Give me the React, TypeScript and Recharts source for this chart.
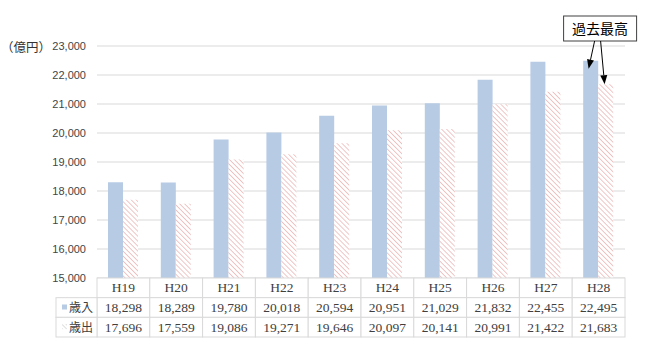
import { BarChart, Bar, XAxis, YAxis, CartesianGrid, ReferenceDot } from 'recharts'

const years = ['H19', 'H20', 'H21', 'H22', 'H23', 'H24', 'H25', 'H26', 'H27', 'H28']
const revenue = [18298, 18289, 19780, 20018, 20594, 20951, 21029, 21832, 22455, 22495]
const expenditure = [17696, 17559, 19086, 19271, 19646, 20097, 20141, 20991, 21422, 21683]
const yTicks = [15000, 16000, 17000, 18000, 19000, 20000, 21000, 22000, 23000]
const seriesNames = ['歳入', '歳出']

const data = years.map((y, i) => ({ year: y, rev: revenue[i], exp: expenditure[i] }))

const W = 649
const H = 350
const M = { top: 46, right: 24, left: 0, bottom: 13 }
const Y_W = 97
const X_H = 59
const PLOT_BOTTOM = H - M.bottom - X_H
const COL_W = (W - M.right - Y_W) / years.length
const ROW_H = X_H / 3
const BORDER = '#d9d9d9'
const BLUE = '#b7cbe4'
const HATCH = '#e28f8f'
const fmt = (v: number) => v.toLocaleString('en-US')

function TableTick(props: any) {
  const { x, payload } = props
  const i = payload.index
  const left = x - COL_W / 2
  const top = PLOT_BOTTOM
  const serif = '"Liberation Serif", serif'
  return (
    <g>
      {[0, 1, 2].map((r) => (
        <rect key={r} x={left} y={top + r * ROW_H} width={COL_W} height={ROW_H}
          fill="#fff" stroke={BORDER} />
      ))}
      <text x={x} y={top + ROW_H / 2 + 4.5} textAnchor="middle" fontFamily={serif} fontSize={13.5} fill="#404040">
        {payload.value}
      </text>
      <text x={x} y={top + ROW_H * 1.5 + 4.5} textAnchor="middle" fontFamily={serif} fontSize={13.5} fill="#404040">
        {fmt(revenue[i])}
      </text>
      <text x={x} y={top + ROW_H * 2.5 + 4.5} textAnchor="middle" fontFamily={serif} fontSize={13.5} fill="#404040">
        {fmt(expenditure[i])}
      </text>
      {i === 0 && (
        <g>
          {[1, 2].map((r) => (
            <rect key={r} x={left - 41} y={top + r * ROW_H} width={41} height={ROW_H}
              fill="#fff" stroke={BORDER} />
          ))}
          <rect x={left - 35} y={top + ROW_H * 1.5 - 3} width={5} height={5} fill={BLUE} />
          <rect x={left - 35} y={top + ROW_H * 2.5 - 3} width={5} height={5} fill="url(#hatchLegend)" />
          {seriesNames.map((n, k) => (
            <text key={n} x={left - 28} y={top + ROW_H * (1.5 + k) + 4.5}
              fontFamily='"Noto Sans CJK JP", sans-serif' fontSize={12} fill="#404040">
              {n}
            </text>
          ))}
        </g>
      )}
    </g>
  )
}

function Arrow({ x1, y1, x2, y2 }: { x1: number; y1: number; x2: number; y2: number }) {
  const a = Math.atan2(y2 - y1, x2 - x1)
  const len = 9
  const wid = 3.5
  const bx = x2 - len * Math.cos(a)
  const by = y2 - len * Math.sin(a)
  const px = -Math.sin(a) * wid
  const py = Math.cos(a) * wid
  return (
    <g>
      <line x1={x1} y1={y1} x2={bx} y2={by} stroke="#000" strokeWidth={1} />
      <polygon points={`${x2},${y2} ${bx + px},${by + py} ${bx - px},${by - py}`} fill="#000" />
    </g>
  )
}

export default function App() {
  return (
    <div style={{ position: 'absolute', left: 0, top: 0, width: W, height: H, background: '#fff' }}>
      <div style={{
        position: 'absolute', left: 1, top: 38, fontFamily: '"Noto Sans CJK JP", sans-serif',
        fontSize: 12.5, color: '#333', lineHeight: '17px', whiteSpace: 'nowrap',
      }}>
        （億円）
      </div>
      <BarChart width={W} height={H} data={data} margin={M} barSize={15} barGap={0}>
        <defs>
          <pattern id="hatch" width={3.5} height={3.5} patternUnits="userSpaceOnUse" patternTransform="rotate(-45)">
            <rect width={3.5} height={3.5} fill="#fff" />
            <line x1={0} y1={0} x2={0} y2={3.5} stroke={HATCH} strokeWidth={1} />
          </pattern>
          <pattern id="hatchLegend" width={3} height={3} patternUnits="userSpaceOnUse" patternTransform="rotate(-45)">
            <rect width={3} height={3} fill="#fff" />
            <line x1={0} y1={0} x2={0} y2={3} stroke="#aaa" strokeWidth={0.8} />
          </pattern>
        </defs>
        <CartesianGrid vertical={false} stroke={BORDER} />
        <YAxis
          width={Y_W}
          domain={[15000, 23000]}
          ticks={yTicks}
          allowDataOverflow
          tickFormatter={fmt}
          axisLine={false}
          tickLine={false}
          tickMargin={5}
          tick={{ fontSize: 11, fill: '#444', fontFamily: '"Liberation Sans", sans-serif' }}
        />
        <XAxis
          dataKey="year"
          height={X_H}
          axisLine={false}
          tickLine={false}
          interval={0}
          tick={<TableTick />}
        />
        <Bar dataKey="rev" fill={BLUE} isAnimationActive={false} />
        <Bar dataKey="exp" fill="url(#hatch)" isAnimationActive={false} />
        <ReferenceDot
          x="H28"
          y={revenue[9]}
          ifOverflow="visible"
          shape={(p: any) => (
            <g>
              <rect x={p.cx - 35} y={16} width={73} height={25} fill="#fff" stroke="#404040" />
              <text x={p.cx + 1.5} y={33.5} textAnchor="middle" fontSize={14}
                fontFamily='"Noto Sans CJK JP", sans-serif' fill="#000">
                過去最高
              </text>
              <Arrow x1={p.cx - 4} y1={41} x2={p.cx - 10} y2={p.cy + 8} />
            </g>
          )}
        />
        <ReferenceDot
          x="H28"
          y={expenditure[9]}
          ifOverflow="visible"
          shape={(p: any) => <Arrow x1={p.cx + 2} y1={41} x2={p.cx + 6} y2={p.cy} />}
        />
      </BarChart>
    </div>
  )
}
